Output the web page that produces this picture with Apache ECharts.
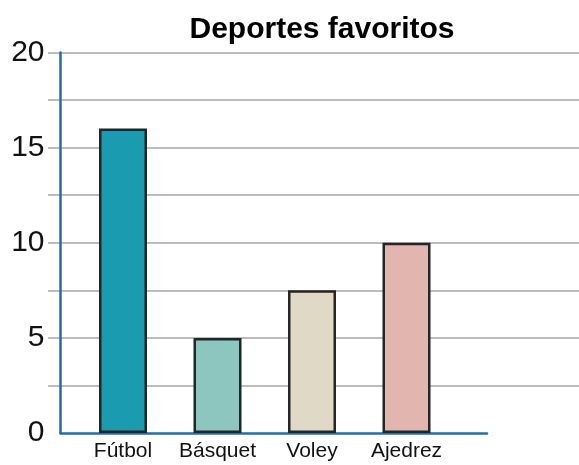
<!DOCTYPE html>
<html>
<head>
<meta charset="utf-8">
<script src="https://cdn.jsdelivr.net/npm/echarts@6/dist/echarts.min.js"></script>
<style>
    html, body { margin: 0; padding: 0; background: #fff; }
    #chart { width: 579px; height: 465px; }
</style>
</head>
<body>
<div id="chart"></div>
<script>
    // datos
    var deportes = ['Fútbol', 'Básquet', 'Voley', 'Ajedrez'];
    var votos = [16, 5, 7.5, 10];
    var colores = ['#1a9bb0', '#8cc6bf', '#e0d9c5', '#e3b5af'];

    var myChart = echarts.init(document.getElementById('chart'));
    var fuente = '"Liberation Sans", Arial, sans-serif';

    var option = {
        animation: false,
        title: {
            text: 'Deportes favoritos',
            left: 317,
            textAlign: 'center',
            top: 10,
            textStyle: {
                color: '#000',
                fontSize: 30,
                fontWeight: 'bold',
                fontFamily: fuente
            }
        },
        grid: [
            // lineas grises
            { left: 48, right: 0, top: 52.5, bottom: 32 },
            // ejes azules
            { left: 60.5, right: 92, top: 52.5, bottom: 32 },
            // barras
            { left: 75.75, right: 125.25, top: 52.5, bottom: 32 }
        ],
        xAxis: [
            { gridIndex: 0, type: 'category', data: deportes, show: false },
            {
                gridIndex: 1, type: 'category', data: deportes,
                axisLine: { lineStyle: { color: '#1f6fae', width: 2.5 } },
                axisTick: { show: false },
                axisLabel: { show: false }
            },
            {
                gridIndex: 2, type: 'category', data: deportes,
                axisLine: { show: false },
                axisTick: { show: false },
                axisLabel: {
                    interval: 0,
                    hideOverlap: false,
                    color: '#111',
                    fontSize: 21,
                    fontFamily: fuente,
                    margin: 8
                }
            }
        ],
        yAxis: [
            {
                gridIndex: 0, type: 'value', min: 0, max: 20, interval: 2.5,
                axisLine: { show: false },
                axisTick: { show: false },
                axisLabel: { show: false },
                splitLine: {
                    show: true,
                    showMinLine: false,
                    lineStyle: { color: '#a7a7aa', width: 1.5 }
                }
            },
            {
                gridIndex: 1, type: 'value', min: 0, max: 20, interval: 5,
                axisLine: { show: true, lineStyle: { color: '#1f6fae', width: 2.5 } },
                axisTick: { show: false },
                splitLine: { show: false },
                axisLabel: {
                    color: '#111',
                    fontSize: 30,
                    fontFamily: fuente,
                    margin: 16
                }
            },
            {
                gridIndex: 2, type: 'value', min: 0, max: 20, show: false
            }
        ],
        series: [
            {
                type: 'bar',
                xAxisIndex: 2,
                yAxisIndex: 2,
                barWidth: 48,
                z: 3,
                data: votos.map(function (v, i) {
                    return {
                        value: v,
                        itemStyle: {
                            color: colores[i],
                            borderColor: '#252525',
                            borderWidth: 2.5
                        }
                    };
                })
            }
        ]
    };
    myChart.setOption(option);
</script>
</body>
</html>
